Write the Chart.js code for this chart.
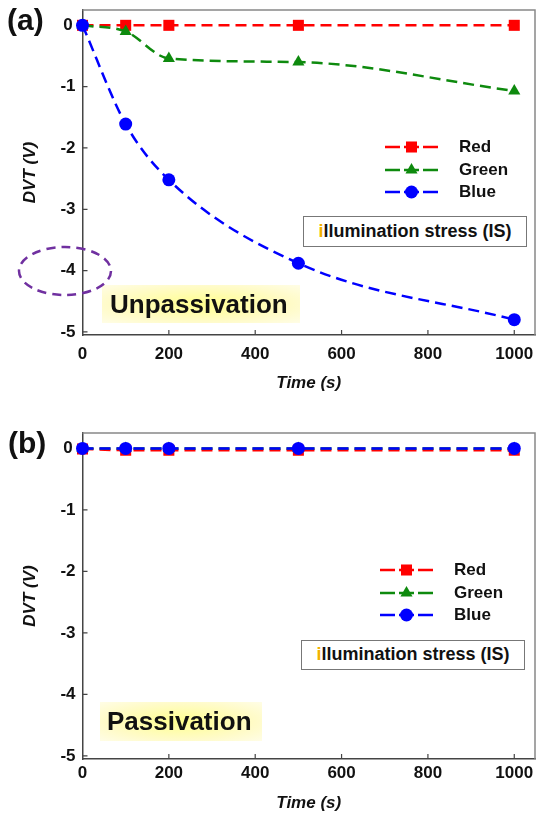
<!DOCTYPE html>
<html>
<head>
<meta charset="utf-8">
<script src="https://cdn.jsdelivr.net/npm/chart.js@4.4.1/dist/chart.umd.min.js"></script>
<style>
  body { margin: 0; background: #fff; }
  #wrap { position: relative; width: 536px; height: 818px; overflow: hidden; font-family: "Liberation Sans", Arial, sans-serif; color: #111; }
  .box { position: absolute; left: 0; width: 536px; }
  .panel { position: absolute; font-weight: bold; font-size: 30px; line-height: 30px; }
  .leg { position: absolute; font-weight: bold; font-size: 17px; line-height: 20px; height: 20px; }
  .is { position: absolute; box-sizing: border-box; border: 1.5px solid #777; background: #fff;
        font-weight: bold; font-size: 18px; text-align: center; white-space: nowrap; }
  .is .i { color: #f2b200; }
  .tag { position: absolute; box-sizing: border-box; font-weight: bold; font-size: 26px; white-space: nowrap;
         background: radial-gradient(ellipse at center, #ffff8e 0%, #fffbc8 65%, #fffde6 100%); }
</style>
</head>
<body>
<div id="wrap">
  <div class="box" style="top:0;height:405px"><canvas id="chartA" width="536" height="405"></canvas></div>
  <div class="box" style="top:410px;height:408px"><canvas id="chartB" width="536" height="408"></canvas></div>

  <div class="panel" style="left:7px;top:5px">(a)</div>
  <div class="panel" style="left:8px;top:428px">(b)</div>

  <div class="leg" style="left:459px;top:137px">Red</div>
  <div class="leg" style="left:459px;top:160px">Green</div>
  <div class="leg" style="left:459px;top:182px">Blue</div>
  <div class="is" style="left:303px;top:216px;width:224px;height:31px;line-height:28px"><span class="i">i</span>llumination stress (IS)</div>
  <div class="tag" style="left:102px;top:285px;width:198px;height:38px;line-height:38px;padding-left:8px">Unpassivation</div>

  <div class="leg" style="left:454px;top:560px">Red</div>
  <div class="leg" style="left:454px;top:583px">Green</div>
  <div class="leg" style="left:454px;top:605px">Blue</div>
  <div class="is" style="left:301px;top:640px;width:224px;height:30px;line-height:27px"><span class="i">i</span>llumination stress (IS)</div>
  <div class="tag" style="left:100px;top:702px;width:162px;height:39px;line-height:39px;padding-left:7px">Passivation</div>

  <svg style="position:absolute;left:0;top:0" width="536" height="818">
    <ellipse cx="65" cy="271" rx="46" ry="24" fill="none" stroke="#7030a0" stroke-width="2.5" stroke-dasharray="9 6"/>
  </svg>
</div>

<script>
// time points (s)
const times = [0, 100, 200, 500, 1000];

// (a) unpassivated
const redA = [0, 0, 0, 0, 0];
const greenA = [0, -0.1, -0.54, -0.6, -1.07];
const blueA = [0, -1.61, -2.52, -3.88, -4.8];

// (b) passivated
const redB = [-0.01, -0.03, -0.03, -0.03, -0.03];
const greenB = [0, 0, 0, 0, 0];
const blueB = [0, 0, 0, 0, 0];

const xTicks = [0, 200, 400, 600, 800, 1000];
const yTicks = [-5, -4, -3, -2, -1, 0];

const FONT = '"Liberation Sans", Arial, sans-serif';

const series = [
    { label: 'Red', color: '#ff0000', style: 'rect', radius: 7.8, order: 2 },
    { label: 'Green', color: '#0e8a0e', style: 'triangle', radius: 7, order: 1 },
    { label: 'Blue', color: '#0000ff', style: 'circle', radius: 6.5, order: 0 }
];

function toPoints(values) {
    return times.map((t, i) => ({ x: t, y: values[i] }));
}

function drawMarker(ctx, style, x, y, r) {
    ctx.beginPath();
    if (style === 'rect') {
        const s = Math.SQRT1_2 * r;
        ctx.rect(x - s, y - s, 2 * s, 2 * s);
    } else if (style === 'triangle') {
        ctx.moveTo(x, y - r);
        ctx.lineTo(x + r * Math.sin(2 * Math.PI / 3), y + r * 0.5);
        ctx.lineTo(x - r * Math.sin(2 * Math.PI / 3), y + r * 0.5);
        ctx.closePath();
    } else {
        ctx.arc(x, y, r, 0, Math.PI * 2);
    }
    ctx.fill();
}

// box, inward ticks and legend samples
const framePlugin = {
    id: 'frame',
    beforeDatasetsDraw(chart) {
        const { ctx, chartArea: a, scales } = chart;
        ctx.save();
        ctx.strokeStyle = '#888';
        ctx.lineWidth = 1.5;
        ctx.beginPath();
        ctx.moveTo(a.left, a.top);
        ctx.lineTo(a.right, a.top);
        ctx.lineTo(a.right, a.bottom);
        ctx.stroke();

        ctx.strokeStyle = '#444';
        ctx.lineWidth = 1.2;
        ctx.beginPath();
        xTicks.forEach(v => {
            if (v === 0) return;
            const px = scales.x.getPixelForValue(v);
            ctx.moveTo(px, a.bottom);
            ctx.lineTo(px, a.bottom - 5);
        });
        yTicks.forEach(v => {
            const py = scales.y.getPixelForValue(v);
            ctx.moveTo(a.left, py);
            ctx.lineTo(a.left + 5, py);
        });
        ctx.stroke();
        ctx.restore();
    },
    afterDatasetsDraw(chart, args, opts) {
        const { ctx } = chart;
        ctx.save();
        series.forEach((s, i) => {
            const y = opts.rows[i];
            ctx.strokeStyle = s.color;
            ctx.fillStyle = s.color;
            ctx.lineWidth = 2.5;
            ctx.setLineDash([15, 4]);
            ctx.beginPath();
            ctx.moveTo(opts.x0, y);
            ctx.lineTo(opts.x1, y);
            ctx.stroke();
            ctx.setLineDash([]);
            drawMarker(ctx, s.style, (opts.x0 + opts.x1) / 2, y, s.radius);
        });
        ctx.restore();
    }
};

function makeChart(id, values, cfg) {
    const datasets = series.map((s, i) => ({
        label: s.label,
        data: toPoints(values[i]),
        borderColor: s.color,
        backgroundColor: s.color,
        pointBackgroundColor: s.color,
        pointBorderColor: s.color,
        pointBorderWidth: 0,
        pointStyle: s.style,
        pointRadius: s.radius,
        borderWidth: 2.5,
        borderDash: [11, 6],
        cubicInterpolationMode: 'monotone',
        fill: false,
        clip: false,
        order: s.order
    }));

    return new Chart(document.getElementById(id), {
        type: 'line',
        data: { datasets },
        options: {
            responsive: false,
            devicePixelRatio: 1,
            animation: false,
            layout: { autoPadding: false, padding: { top: cfg.padTop, right: 1, left: 0, bottom: 0 } },
            plugins: {
                legend: { display: false },
                tooltip: { enabled: false },
                frame: cfg.legend
            },
            scales: {
                x: {
                    type: 'linear',
                    min: 0,
                    max: 1048,
                    afterBuildTicks: sc => { sc.ticks = xTicks.map(v => ({ value: v })); },
                    afterFit: sc => {
                        sc.height = cfg.xHeight;
                        sc.paddingLeft = 0;
                        sc.paddingRight = 0;
                    },
                    grid: { display: false, drawTicks: false },
                    border: { display: true, color: '#444', width: 1.5 },
                    ticks: {
                        color: '#111', padding: cfg.xTickPad, maxRotation: 0, autoSkip: false,
                        font: { family: FONT, size: 17, weight: 'bold' },
                        callback: v => String(v)
                    },
                    title: {
                        display: true, text: 'Time (s)', color: '#111',
                        font: { family: FONT, size: 17, weight: 'bold', style: 'italic' },
                        padding: { top: 0, bottom: cfg.titlePad }
                    }
                },
                y: {
                    type: 'linear',
                    min: -5.05,
                    max: 0.25,
                    afterBuildTicks: sc => { sc.ticks = yTicks.map(v => ({ value: v })); },
                    afterFit: sc => {
                        sc.width = 82.5;
                        sc.paddingTop = 0;
                        sc.paddingBottom = 0;
                    },
                    grid: { display: false, drawTicks: false },
                    border: { display: true, color: '#444', width: 1.5 },
                    ticks: {
                        color: '#111', padding: 7, crossAlign: 'center',
                        font: { family: FONT, size: 17, weight: 'bold' },
                        callback: v => String(v)
                    },
                    title: {
                        display: true, text: 'DVT (V)', color: '#111',
                        font: { family: FONT, size: 17, weight: 'bold', style: 'italic' },
                        padding: { top: 20, bottom: 0 }
                    }
                }
            }
        },
        plugins: [framePlugin]
    });
}

makeChart('chartA', [redA, greenA, blueA], {
    padTop: 10, xHeight: 70, xTickPad: 9, titlePad: 11,
    legend: { x0: 385, x1: 438, rows: [147, 170, 192] }
});

makeChart('chartB', [redB, greenB, blueB], {
    padTop: 23, xHeight: 59, xTickPad: 4, titlePad: 4,
    legend: { x0: 380, x1: 433, rows: [160, 183, 205] }
});
</script>
</body>
</html>
